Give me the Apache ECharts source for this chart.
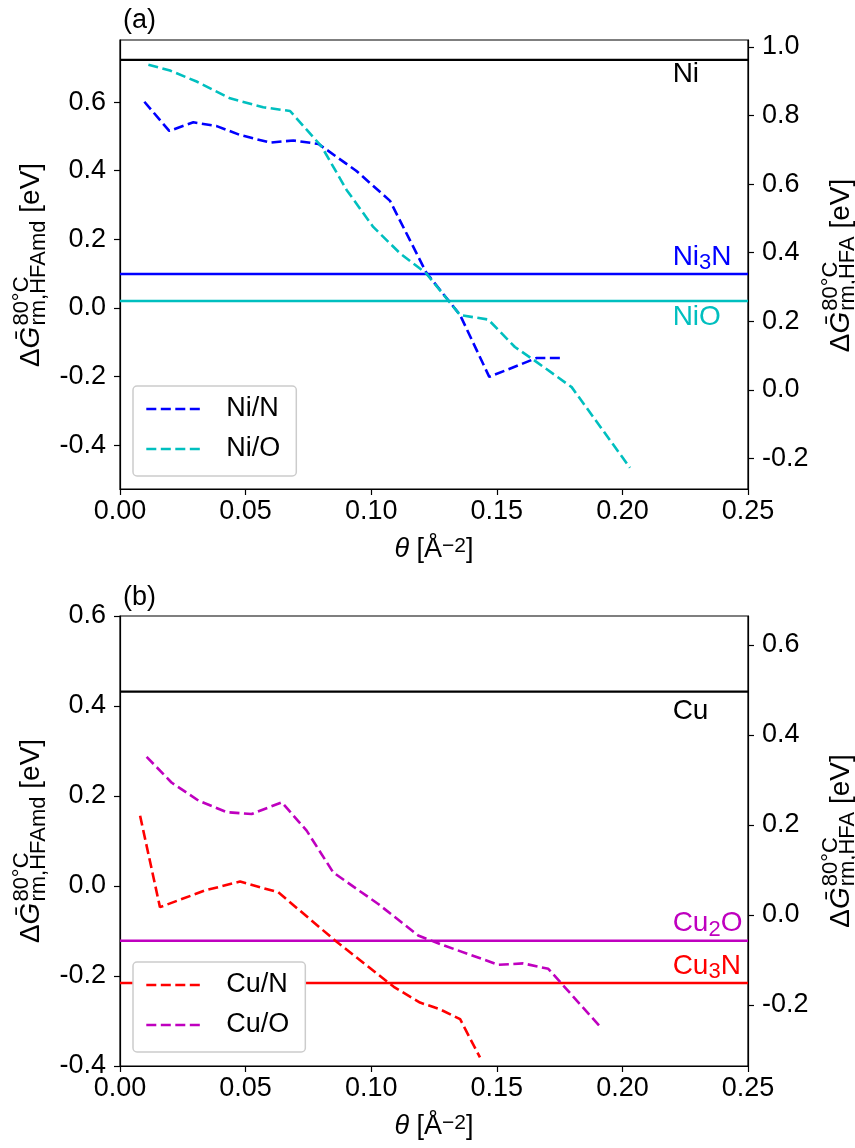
<!DOCTYPE html>
<html>
<head>
<meta charset="utf-8">
<script src="https://cdn.jsdelivr.net/npm/echarts@6/dist/echarts.min.js"></script>
<style>
  html, body { margin: 0; background: #fff; }
  #chart { width: 855px; height: 1148px; }
</style>
</head>
<body>
<div id="chart"></div>
<script>
// coverage theta [1/A^2] and free energies [eV]
const niN_x = [0.0097, 0.0196, 0.0292, 0.0385, 0.0478, 0.0597, 0.069, 0.079, 0.094, 0.1075, 0.122, 0.1354, 0.147, 0.1659, 0.1765];
const niN_y = [0.601, 0.516, 0.541, 0.530, 0.504, 0.482, 0.488, 0.478, 0.400, 0.312, 0.102, -0.021, -0.201, -0.146, -0.146];
const niO_x = [0.0113, 0.0199, 0.0305, 0.0438, 0.057, 0.0677, 0.0803, 0.0902, 0.1008, 0.1115, 0.122, 0.1354, 0.1466, 0.1572, 0.1659, 0.1798, 0.203];
const niO_y = [0.709, 0.692, 0.660, 0.611, 0.585, 0.574, 0.470, 0.344, 0.236, 0.159, 0.100, -0.021, -0.034, -0.114, -0.158, -0.231, -0.466];
const cuN_x = [0.008, 0.0159, 0.0338, 0.0478, 0.063, 0.0856, 0.109, 0.1194, 0.1274, 0.1354, 0.1433];
const cuN_y = [0.156, -0.047, -0.010, 0.010, -0.014, -0.121, -0.224, -0.259, -0.274, -0.296, -0.381];
const cuO_x = [0.0106, 0.0205, 0.0312, 0.0425, 0.0524, 0.0644, 0.0743, 0.0849, 0.1028, 0.1187, 0.1274, 0.1506, 0.1605, 0.1705, 0.1917];
const cuO_y = [0.287, 0.230, 0.190, 0.164, 0.160, 0.186, 0.123, 0.030, -0.040, -0.110, -0.129, -0.175, -0.172, -0.184, -0.316];

// reference phases (horizontal lines)
const niRefLabels = ['Ni', 'Ni{s|3}N', 'NiO'];
const niRefVals = [0.723, 0.099, 0.020];
const cuRefLabels = ['Cu', 'Cu{s|2}O', 'Cu{s|3}N'];
const cuRefVals = [0.432, -0.1216, -0.2156];
const refLabelX = 0.22;

// tick labels
const leftTicksA = [-0.4, -0.2, 0, 0.2, 0.4, 0.6];
const rightTicksA = [-0.2, 0, 0.2, 0.4, 0.6, 0.8, 1.0];
const leftTicksB = [-0.4, -0.2, 0, 0.2, 0.4, 0.6];
const rightTicksB = [-0.2, 0, 0.2, 0.4, 0.6];

const FONT = '"Liberation Sans", "DejaVu Sans", sans-serif';
const chart = echarts.init(document.getElementById('chart'));

const measureCtx = document.createElement('canvas').getContext('2d');
function textW(t, size, style) {
  measureCtx.font = (style || 'normal') + ' ' + size + 'px ' + FONT;
  return measureCtx.measureText(t).width;
}

// rotated y-axis title: Delta G-bar with stacked super/subscript
function yTitle(bx, cy, sub) {
  const F = 28, S = 22;
  const wD = textW('Δ', F), wG = textW('Ḡ', F, 'italic');
  const wSup = textW('80°C', S), wSub = textW('rm,' + sub, S);
  const wT = textW(' [eV]', F);
  const total = wD + wG + 1 + Math.max(wSup, wSub) + wT;
  const x0 = -total / 2;
  const x2 = x0 + wD + wG + 1;
  const st = (text, x, y, size, italic) => ({
    type: 'text', x: x, y: y,
    style: { text: text, fontSize: size, fontFamily: FONT, fontStyle: italic ? 'italic' : 'normal', fill: '#000', align: 'left', verticalAlign: 'middle' }
  });
  return {
    type: 'group', x: bx, y: cy, rotation: Math.PI / 2, silent: true,
    children: [
      st('Δ', x0, -0.35 * F, F),
      st('Ḡ', x0 + wD, -0.35 * F, F, true),
      st('80°C', x2, -12 - 0.35 * S, S),
      st('rm,' + sub, x2, 5 - 0.35 * S, S),
      st(' [eV]', x2 + Math.max(wSup, wSub), -0.35 * F, F)
    ]
  };
}

function dashed(name, xs, ys, color, g) {
  return {
    name: name, type: 'line', xAxisIndex: g, yAxisIndex: g * 2,
    data: xs.map((x, i) => [x, ys[i]]),
    symbol: 'none', silent: true, z: 4,
    lineStyle: { color: color, width: 2.6, type: [10, 4.5] },
    itemStyle: { color: color }
  };
}

function refLine(label, v, color, g, below, dy) {
  return {
    type: 'line', xAxisIndex: g, yAxisIndex: g * 2,
    data: [[0, v], [0.25, v]],
    symbol: 'none', silent: true, z: 3,
    lineStyle: { color: color, width: 2.4 },
    markPoint: {
      symbol: 'circle', symbolSize: 0, silent: true,
      data: [{ coord: [refLabelX, v] }],
      label: {
        show: true, formatter: label, position: [0, dy],
        align: 'left', verticalAlign: below ? 'top' : 'bottom',
        color: color, fontSize: 28, fontFamily: FONT, lineHeight: 34,
        rich: { s: { fontSize: 22, lineHeight: 22, color: color, fontFamily: FONT, verticalAlign: 'bottom' } }
      }
    }
  };
}

function xAxis(g) {
  return {
    type: 'value', gridIndex: g, min: 0, max: 0.25, interval: 0.05,
    axisLine: { show: true, onZero: false, lineStyle: { color: '#000', width: 1.2 } },
    axisTick: { show: true, length: 6, lineStyle: { color: '#000', width: 1.2 } },
    axisLabel: { fontSize: 27, color: '#000', fontFamily: FONT, margin: 9, formatter: v => v.toFixed(2) },
    splitLine: { show: false },
    name: '{i|θ} [Å{s|−2}]', nameLocation: 'middle', nameGap: 47,
    nameTextStyle: {
      fontSize: 27, color: '#000', fontFamily: FONT,
      rich: {
        i: { fontSize: 27, fontStyle: 'italic', fontFamily: FONT, color: '#000' },
        s: { fontSize: 21, fontFamily: FONT, color: '#000', verticalAlign: 'top' }
      }
    }
  };
}

function yAxis(g, pos, min, max, ticks) {
  return {
    type: 'value', gridIndex: g, position: pos, min: min, max: max,
    axisLine: { show: true, onZero: false, lineStyle: { color: '#000', width: 1.2 } },
    axisTick: { show: true, length: 6, customValues: ticks, lineStyle: { color: '#000', width: 1.2 } },
    axisLabel: { fontSize: 27, color: '#000', fontFamily: FONT, margin: 14, customValues: ticks, formatter: v => v.toFixed(1) },
    splitLine: { show: false }
  };
}

function legend(names, top) {
  return {
    data: names, orient: 'vertical', left: 133, top: top, z: 100,
    itemWidth: 57, itemHeight: 14, itemGap: 10,
    padding: [8, 16, 12, 12],
    backgroundColor: '#fff',
    borderColor: '#ccc', borderWidth: 1.5, borderRadius: 4,
    itemStyle: { opacity: 0 },
    lineStyle: { width: 2.6, type: [10, 4.5] },
    textStyle: { fontSize: 27, color: '#000', fontFamily: FONT, lineHeight: 30, padding: [0, 0, 0, 18] }
  };
}

const option = {
  animation: false,
  backgroundColor: '#fff',
  title: [
    { text: '(a)', left: 118, top: 2, textStyle: { fontSize: 27, fontWeight: 'normal', color: '#000', fontFamily: FONT } },
    { text: '(b)', left: 118, top: 579, textStyle: { fontSize: 27, fontWeight: 'normal', color: '#000', fontFamily: FONT } }
  ],
  grid: [
    { left: 120, right: 107, top: 40, height: 449, show: true, borderColor: '#000', borderWidth: 1.2 },
    { left: 120, right: 107, top: 616, height: 450, show: true, borderColor: '#000', borderWidth: 1.2 }
  ],
  xAxis: [xAxis(0), xAxis(1)],
  yAxis: [
    yAxis(0, 'left', -0.528, 0.781, leftTicksA),
    yAxis(0, 'right', -0.289, 1.020, rightTicksA),
    yAxis(1, 'left', -0.4, 0.6, leftTicksB),
    yAxis(1, 'right', -0.336, 0.664, rightTicksB)
  ],
  legend: [legend(['Ni/N', 'Ni/O'], 386), legend(['Cu/N', 'Cu/O'], 962)],
  graphic: [
    yTitle(41.5, 265, 'HFAmd'),
    yTitle(851, 265.5, 'HFA'),
    yTitle(41.5, 841, 'HFAmd'),
    yTitle(851, 841, 'HFA')
  ],
  series: [
    refLine(niRefLabels[0], niRefVals[0], '#000', 0, true, -3),
    refLine(niRefLabels[1], niRefVals[1], '#0000ff', 0, false, 0),
    refLine(niRefLabels[2], niRefVals[2], '#00bfbf', 0, true, -1),
    dashed('Ni/N', niN_x, niN_y, '#0000ff', 0),
    dashed('Ni/O', niO_x, niO_y, '#00bfbf', 0),
    refLine(cuRefLabels[0], cuRefVals[0], '#000', 1, true, 3),
    refLine(cuRefLabels[1], cuRefVals[1], '#bf00bf', 1, false, 0),
    refLine(cuRefLabels[2], cuRefVals[2], '#ff0000', 1, false, 0),
    dashed('Cu/N', cuN_x, cuN_y, '#ff0000', 1),
    dashed('Cu/O', cuO_x, cuO_y, '#bf00bf', 1)
  ]
};

chart.setOption(option);
</script>
</body>
</html>
